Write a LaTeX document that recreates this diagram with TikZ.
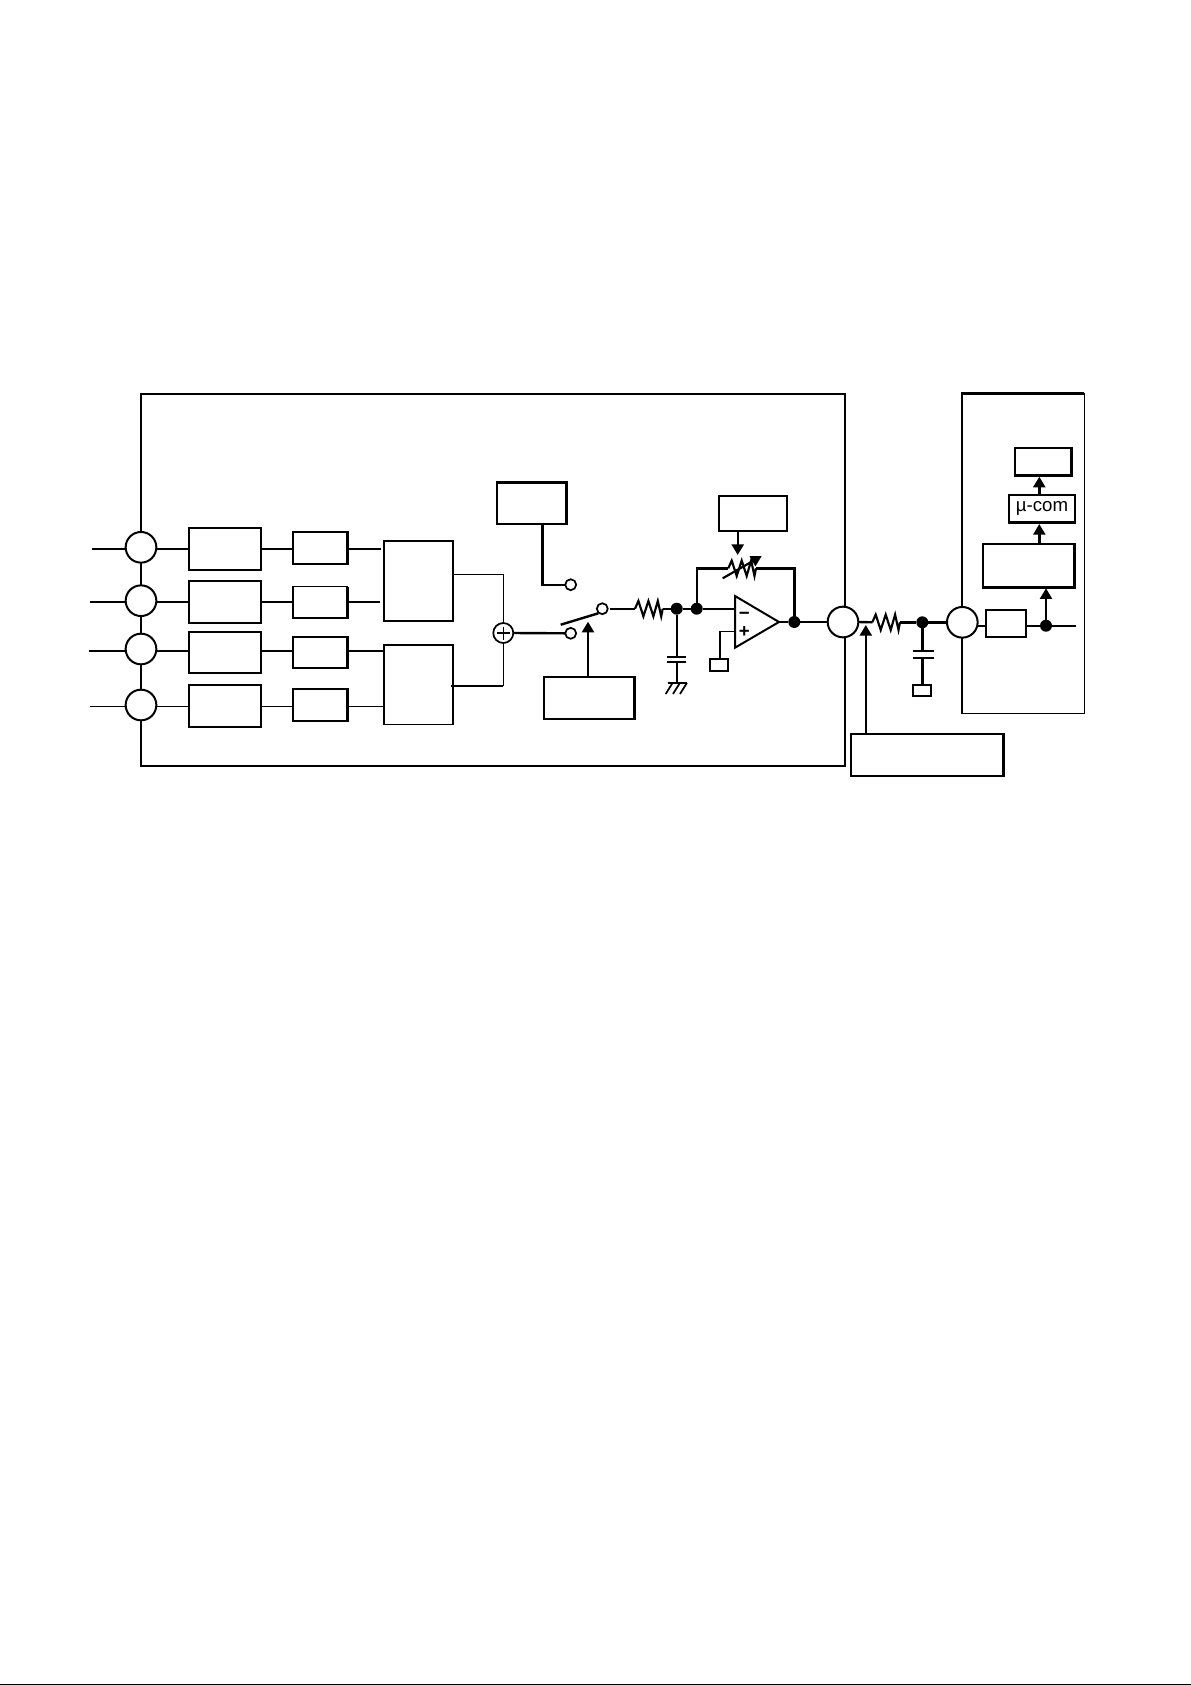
\documentclass[tikz,border=0pt]{standalone}
\usepackage{fontspec}
\setmainfont{Liberation Sans}
\usetikzlibrary{arrows.meta}
\tikzset{
  thinl/.style={line width=0.85pt},
  thickl/.style={line width=1.8pt},
  conn/.style={line width=1.8pt},
  tipline/.style={line width=1.8pt,-{Triangle[length=8pt,width=9pt]},shorten >=0pt},
  blk/.style={draw,line width=1.8pt,fill=white,inner sep=0pt,outer sep=0pt},
  blkthin/.style={draw,line width=0.85pt,inner sep=0pt,outer sep=0pt},
  port/.style={circle,draw,line width=1.5pt,fill=white,minimum size=23pt,inner sep=0pt,outer sep=0pt},
  sumnode/.style={circle,draw,line width=1.3pt,fill=white,minimum size=15pt,inner sep=0pt,outer sep=0pt},
  contact/.style={circle,draw,line width=1.3pt,fill=white,minimum size=8.2pt,inner sep=0pt,outer sep=0pt},
  dotnode/.style={circle,fill=black,minimum size=9pt,inner sep=0pt,outer sep=0pt},
  sign/.style={inner sep=0pt,outer sep=0pt,font=\fontsize{14}{14}\selectfont\bfseries},
  zig/.pic={\draw[line width=1.6pt,line join=miter]
     (0,0) -- ++(3.4,-7.7) -- ++(5,15.4) -- ++(5,-15.4) -- ++(5,15.4) -- ++(4.4,-15.4) -- ++(3.4,15.4) -- ++(1.5,-7.7);},
}
\newcommand{\pbox}[6][blk]{\node[#1,minimum width={(#5-#3)*0.75pt},minimum height={(#6-#4)*0.75pt}] (#2) at ({(#3+#5)/2},{(#4+#6)/2}) {};}
\begin{document}
\begin{tikzpicture}[x=0.75pt,y=-0.75pt]
\useasboundingbox (0,0) rectangle (1191,1685);
\fill[white] (0,0) rectangle (1191,1685);
\draw[line width=0.75pt] (0,1684.5) -- (1191,1684.5);

% enclosures
\pbox{mainbox}{141}{394}{845}{765.7}
\pbox[blkthin]{rightbox}{962}{393.3}{1084.3}{713.3}
\draw[thickl] (rightbox.south west) -- (rightbox.north west) -- (rightbox.north east);
\draw[line width=1.2pt] (rightbox.north east) -- (rightbox.south east);

% input rows
\coordinate (in1) at (92,549);
\coordinate (in2) at (90,601.7);
\coordinate (in3) at (89,651);
\coordinate (in4) at (90,706.3);
\coordinate (out1) at (381,549);
\coordinate (out2) at (380,601.7);
\coordinate (out3) at (383.7,651);
\coordinate (out4) at (383.7,706.3);

\draw[thickl] (in1) -- (out1);
\draw[thickl] (in2) -- (out2);
\draw[thickl] (in3) -- (out3);
\draw[thinl]  (in4) -- (out4);

\node[port] (p1) at (141,547.3) {};
\node[port] (p2) at (141,600.7) {};
\node[port] (p3) at (141,649) {};
\node[port] (p4) at (141,705) {};

\pbox{fa}{188.7}{527.7}{261}{570}
\pbox{fb}{188.7}{581}{261}{623}
\pbox{fc}{188.7}{632}{261}{673}
\pbox{fd}{188.7}{684.7}{261}{727}

\pbox{ga}{292.7}{532}{347.3}{564}
\pbox[blkthin,fill=white]{gb}{292.7}{586.7}{347.3}{618}
\draw[thickl] (gb.north west) -- (gb.south west) -- (gb.south east) -- (gb.north east);
\pbox{gc}{292.7}{637}{347.3}{668}
\pbox{gd}{292.7}{689}{347.3}{721}

\pbox{mixa}{383.7}{541}{453}{620.7}
\pbox[blkthin,fill=white]{mixb}{383.7}{645}{453}{724.3}
\draw[thickl] (mixb.south west) -- (mixb.north west) -- (mixb.north east) -- (mixb.south east);

% summing point
\node[sumnode] (sum) at (503.3,633) {};
\draw[thinl] (sum.center) +(-6.5,0) -- +(6.5,0);
\draw[thinl] (sum.center) +(0,-6.5) -- +(0,6.5);
\coordinate (mixaout) at (453,574.3);
\coordinate (mixbout) at (451,685.7);
\draw[thinl] (mixaout) -| (sum.north);
\draw[thinl] (sum.south) |- (mixb.east |- mixbout);
\draw[thickl] (mixbout) -- (mixbout -| sum.south);

% switch
\pbox{refbox}{496.7}{482.3}{566.3}{524}
\pbox{ctrlbox}{543.7}{676.7}{634.3}{719}
\node[contact] (k1) at (570.7,584.7) {};
\node[contact] (k2) at (570.7,633.3) {};
\node[contact] (k3) at (602.3,608.7) {};
\coordinate (refdrop) at (542.3,524);
\draw[conn] (refdrop) |- (k1.west);
\draw[conn] (sum.east) -- (k2.west);
\coordinate (armA) at (560.7,624.7);
\coordinate (armB) at (598.3,613.3);
\draw[conn] (armA) -- (armB);
\coordinate (swtip) at (588,621.7);
\draw[tipline] (swtip |- ctrlbox.north) -- (swtip);

% input resistor, capacitor and ground
\coordinate (r1a) at (635,608.7);
\coordinate (r1b) at (662.7,608.7);
\pic at (r1a) {zig};
\coordinate (k3out) at (610,608.7);
\draw[conn] (k3out) -- (r1a);
\node[dotnode] (d1) at (676.7,608.7) {};
\node[dotnode] (d2) at (696.7,608.7) {};
\draw[conn] (r1b) -- (d1);
\draw[conn] (d1) -- (d2);
\coordinate (capa) at (676.7,656.7);
\coordinate (capb) at (676.7,661.7);
\coordinate (gnd) at (676.7,682.7);
\draw[conn] (d1) -- (capa);
\draw[conn] (capb) -- (gnd);
\draw[conn] (667.3,656.7) -- (686,656.7);
\draw[conn] (667.3,661.7) -- (686,661.7);
\draw[conn] (667.7,682.7) -- (687.3,682.7);
\draw[line width=1.3pt] (672.7,682.7) -- (665.7,694);
\draw[line width=1.3pt] (680,682.7) -- (673,694);
\draw[line width=1.3pt] (687,682.7) -- (680,694);

% operational amplifier
\coordinate (oa1) at (735,596);
\coordinate (oa2) at (735,647.7);
\coordinate (oa3) at (779,622);
\coordinate (oaminus) at (735,608.7);
\coordinate (oaplus) at (735,631.3);
\draw[conn] (d2) -- (oaminus);
\draw[line width=1.5pt,fill=white,line join=miter] (oa1) -- (oa3) -- (oa2) -- cycle;
\node[sign] (minus) at (744.3,616) {−};
\node[sign] (plus) at (744.3,632.3) {+};
\pbox[blk,line width=1.3pt]{vref}{710}{658.7}{728.3}{671}
\draw[line width=1.1pt] (oaplus) -| (vref.north -| 720,0);

% feedback
\node[dotnode] (d3) at (794.3,622) {};
\node[port] (p5) at (843,622) {};
\draw[conn] (oa3) -- (d3);
\draw[conn] (d3) -- (p5.west);
\coordinate (r2a) at (728.3,568.3);
\coordinate (r2b) at (756,568.3);
\pic at (r2a) {zig};
\draw[conn] (d2) |- (r2a);
\draw[conn] (r2b) -| (d3.north);
\coordinate (vrA) at (722.7,578.3);
\coordinate (vrB) at (761.7,556);
\draw[line width=1.6pt,-{Triangle[length=8pt,width=8.5pt]}] (vrA) -- (vrB);
\pbox{gainbox}{718.7}{495.7}{787}{531}
\coordinate (gaintip) at (737.7,555);
\draw[tipline] (gaintip |- gainbox.south) -- (gaintip);

% interconnect
\pbox{bottombox}{850.7}{733.7}{1003.3}{775.7}
\coordinate (p5tip) at (865.8,625);
\draw[tipline] (p5tip |- bottombox.north) -- (p5tip);
\coordinate (r3a) at (872.3,622.3);
\coordinate (r3b) at (900,622.3);
\pic at (r3a) {zig};
\draw[conn] (p5.east) -- (r3a);
\node[dotnode] (d4) at (922.3,622.3) {};
\node[port] (p6) at (962.3,622.3) {};
\draw[conn] (r3b) -- (d4);
\draw[conn] (d4) -- (p6.west);
\coordinate (cap2a) at (922.3,651);
\coordinate (cap2b) at (922.3,657.7);
\draw[conn] (d4) -- (cap2a);
\draw[conn] (913.3,651) -- (934.3,651);
\draw[conn] (913.3,657.7) -- (934.3,657.7);
\pbox[blk,line width=1.3pt]{vref2}{912.7}{685}{931.3}{696}
\draw[conn] (cap2b) -- (vref2.north -| cap2b);

% right-hand unit
\coordinate (rxend) at (1076,625.7);
\coordinate (rxin) at (977.6,625.7);
\draw[conn] (rxin) -- (rxend);
\pbox{rxbox}{985.7}{610}{1026}{637}
\node[dotnode] (d5) at (1046,625.7) {};
\pbox{detbox}{982.7}{543.7}{1074.3}{587.3}
\coordinate (dettip) at (1046,588.3);
\draw[tipline] (d5.center) -- (dettip);
\pbox{mcom}{1008.7}{494.7}{1075}{522.3}
\node[inner sep=0pt,font=\fontsize{14}{14}\selectfont] (mcomtext) at (1042,508.5) {µ-com};
\coordinate (mtip) at (1039.3,524);
\draw[tipline] (mtip |- detbox.north) -- (mtip);
\pbox{topbox}{1014.7}{448}{1071.3}{475.3}
\coordinate (ttip) at (1039.3,476.7);
\draw[tipline] (ttip |- mcom.north) -- (ttip);
\end{tikzpicture}
\end{document}
